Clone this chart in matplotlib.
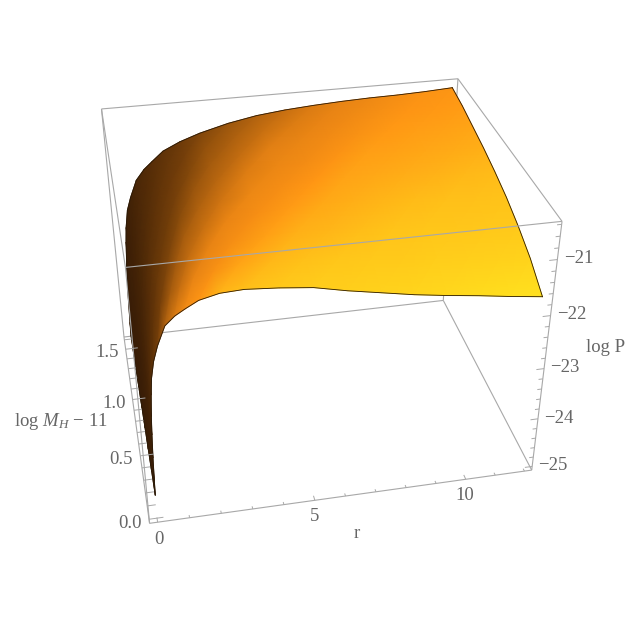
#!/usr/bin/env python3
"""3D surface of log P over r and log M_H, values read off the reference picture."""

import matplotlib
matplotlib.use("Agg")
import matplotlib.pyplot as plt
from matplotlib.collections import TriMesh
from matplotlib.colors import LinearSegmentedColormap
from matplotlib.tri import Triangulation
from mpl_toolkits.mplot3d import proj3d
import numpy as np

plt.rcParams['font.family'] = ['Liberation Serif', 'DejaVu Serif']
plt.rcParams['mathtext.fontset'] = 'custom'
plt.rcParams['mathtext.rm'] = 'Liberation Serif'
plt.rcParams['mathtext.it'] = 'Liberation Serif:italic'

# Surface samples, one list of log P per log M row
r_vals = [0.01, 0.02, 0.04, 0.07, 0.1, 0.15, 0.2, 0.3, 0.45, 0.7, 1.0, 1.3,
          1.7, 2.3, 3, 4, 5, 6, 7, 8, 9, 10, 11, 12]
m_vals = [0.0, 0.2, 0.4, 0.6, 0.8, 1.0, 1.2, 1.4, 1.6]
z_m00 = [-24.60, -24.30, -23.85, -23.40, -23.05, -22.65, -22.35, -22.05, -21.78, -21.45, -21.30, -21.20,
         -21.08, -21.00, -20.98, -21.02, -21.08, -21.20, -21.30, -21.40, -21.48, -21.55, -21.63, -21.70]
z_m02 = [-24.65, -24.35, -23.89, -23.44, -23.09, -22.69, -22.39, -22.08, -21.81, -21.48, -21.33, -21.22,
         -21.10, -21.01, -20.96, -20.95, -20.96, -21.03, -21.09, -21.15, -21.20, -21.29, -21.36, -21.40]
z_m04 = [-24.70, -24.40, -23.94, -23.49, -23.14, -22.73, -22.43, -22.11, -21.85, -21.52, -21.36, -21.25,
         -21.11, -21.01, -20.95, -20.90, -20.87, -20.90, -20.93, -20.96, -20.99, -21.09, -21.15, -21.18]
z_m06 = [-24.75, -24.45, -23.98, -23.53, -23.18, -22.76, -22.46, -22.14, -21.88, -21.55, -21.38, -21.27,
         -21.13, -21.02, -20.94, -20.85, -20.80, -20.80, -20.80, -20.81, -20.85, -20.94, -20.98, -21.00]
z_m08 = [-24.80, -24.50, -24.03, -23.58, -23.23, -22.80, -22.50, -22.18, -21.92, -21.59, -21.41, -21.29,
         -21.14, -21.03, -20.93, -20.82, -20.75, -20.72, -20.71, -20.70, -20.74, -20.80, -20.84, -20.86]
z_m10 = [-24.85, -24.55, -24.07, -23.62, -23.27, -22.84, -22.54, -22.21, -21.95, -21.62, -21.44, -21.31,
         -21.16, -21.03, -20.93, -20.80, -20.72, -20.68, -20.65, -20.64, -20.65, -20.70, -20.73, -20.74]
z_m12 = [-24.90, -24.60, -24.11, -23.66, -23.31, -22.88, -22.58, -22.24, -21.98, -21.65, -21.47, -21.34,
         -21.17, -21.04, -20.92, -20.79, -20.70, -20.65, -20.62, -20.59, -20.59, -20.62, -20.64, -20.64]
z_m14 = [-24.95, -24.65, -24.16, -23.71, -23.36, -22.91, -22.61, -22.27, -22.01, -21.69, -21.49, -21.36,
         -21.19, -21.04, -20.92, -20.78, -20.69, -20.63, -20.59, -20.57, -20.55, -20.56, -20.56, -20.54]
z_m16 = [-25.00, -24.70, -24.20, -23.75, -23.40, -22.95, -22.65, -22.30, -22.05, -21.72, -21.52, -21.38,
         -21.20, -21.05, -20.92, -20.78, -20.68, -20.62, -20.58, -20.55, -20.53, -20.52, -20.50, -20.47]

# Ticks
r_ticks = [0, 1, 2, 3, 4, 5, 6, 7, 8, 9, 10, 11, 12]
r_labels = {0: '0', 5: '5', 10: '10'}
m_ticks = [0.0, 0.1, 0.2, 0.3, 0.4, 0.5, 0.6, 0.7, 0.8, 0.9, 1.0, 1.1, 1.2, 1.3, 1.4, 1.5, 1.6]
m_labels = {0.0: '0.0', 0.5: '0.5', 1.0: '1.0', 1.5: '1.5'}
z_major = [-25, -24, -23, -22, -21]
z_minor = [-24.8, -24.6, -24.4, -24.2, -23.8, -23.6, -23.4, -23.2, -22.8, -22.6, -22.4, -22.2,
           -21.8, -21.6, -21.4, -21.2, -20.8, -20.6, -20.4]

x0, x1 = -0.25, 12.25
y0, y1 = -0.03, 1.63
z0, z1 = -25.08, -20.35
GRAY = '#a8a8a8'
TXT = '#666666'
FS = 13.5


class SmoothMesh(TriMesh):
    # gouraud triangles in the projected plane of the 3D axes, colours blend between samples
    def do_3d_projection(self):
        return 0


R, M = np.meshgrid(r_vals, m_vals)
Z = np.array([z_m00, z_m02, z_m04, z_m06, z_m08, z_m10, z_m12, z_m14, z_m16])

# Colour follows the look of the lit surface: dark at the wall, yellow towards large r
cmap = LinearSegmentedColormap.from_list('glow', [
    (0.00, '#321905'), (0.30, '#78410a'), (0.55, '#e68214'),
    (0.70, '#ff9614'), (0.85, '#ffc319'), (1.00, '#ffe11e')])
r_eq = R / (1 + 2.4 * M)
t = np.interp(r_eq, [0, 0.2, 0.7, 1.3, 2.3, 4, 12], [0.03, 0.15, 0.42, 0.62, 0.8, 0.88, 1])
t = t - 0.12 * (M / 1.6) * np.minimum(R / 6, 1)

S = 580
box = (1.11, 0.91, 0.835)
fig = plt.figure(figsize=(6.27, 6.28), dpi=100)
ax = fig.add_axes([15.7 / 627, 43.2 / 628, S / 627, S / 628], projection='3d', computed_zorder=False)
ax.set_proj_type('persp', focal_length=0.4086)
ax.view_init(elev=33, azim=-101.5, roll=0)
ax.set_box_aspect(box, zoom=1.081 * np.linalg.norm(box) / 1.9057)
ax.set_xlim(x0, x1, view_margin=0)
ax.set_ylim(y0, y1, view_margin=0)
ax.set_zlim(z0, z1, view_margin=0)
ax.set_xticks([])
ax.set_yticks([])
ax.set_zticks([])
ax.set_axis_off()
ax.patch.set_alpha(0)


def seg(xs, ys, zs, zorder=1, lw=0.8):
    ax.plot(xs, ys, zs, color=GRAY, lw=lw, zorder=zorder, solid_capstyle='butt')


# Box edges behind the surface
seg([x0, x1], [y1, y1], [z0, z0])
seg([x1, x1], [y1, y1], [z0, z1])
seg([x0, x0], [y1, y1], [z0, z1])
seg([x0, x1], [y1, y1], [z1, z1])
seg([x0, x0], [y0, y1], [z1, z1])
seg([x1, x1], [y0, y1], [z1, z1])
seg([x1, x1], [y0, y1], [z0, z0])

# Surface, triangles painted far to near
px, py, pz = proj3d.proj_transform(R.ravel(), M.ravel(), Z.ravel(), ax.get_proj())
nm, nr = R.shape
idx = np.arange(nm * nr).reshape(nm, nr)
a, b, c, d = idx[:-1, :-1].ravel(), idx[:-1, 1:].ravel(), idx[1:, 1:].ravel(), idx[1:, :-1].ravel()
tris = np.vstack([np.c_[a, b, c], np.c_[a, c, d]])
tris = tris[np.argsort(-np.asarray(pz)[tris].mean(axis=1))]
mesh = SmoothMesh(Triangulation(np.asarray(px), np.asarray(py), tris), cmap=cmap, zorder=2)
mesh.set_array(t.ravel())
mesh.set_clim(0, 1)
ax.add_collection(mesh, autolim=False)

for xs, ys, zs in [(R[0], M[0], Z[0]), (R[-1], M[-1], Z[-1]),
                   (R[:, -1], M[:, -1], Z[:, -1]), (R[:, 0], M[:, 0], Z[:, 0])]:
    ax.plot(xs, ys, zs, color='#2a1a08', lw=0.6, zorder=3)

# Box edges in front of it
seg([x0, x1], [y0, y0], [z1, z1], zorder=4)
seg([x0, x1], [y0, y0], [z0, z0], zorder=4)
seg([x0, x0], [y0, y1], [z0, z0], zorder=4)
seg([x0, x0], [y0, y0], [z0, z1], zorder=4)
seg([x1, x1], [y0, y0], [z0, z1], zorder=4)

# r axis
for v in r_ticks:
    dy = 0.035 if v in r_labels else 0.02
    seg([v, v], [y0, y0 + dy], [z0, z0], zorder=4, lw=0.7)
    if v in r_labels:
        ax.text(v, y0, z0 - 0.36, r_labels[v], color=TXT, fontsize=FS, ha='center', va='center')

# log M axis
for v in m_ticks:
    dx = 0.45 if v in m_labels else 0.27
    seg([x0, x0 + dx], [v, v], [z0, z0], zorder=4, lw=0.7)
    if v in m_labels:
        ax.text(x0 - 0.25, v, z0 - 0.06, m_labels[v], color=TXT, fontsize=FS, ha='right', va='center')

# log P axis
for v in z_major:
    seg([x1 - 0.25, x1], [y0, y0], [v, v], zorder=4, lw=0.7)
    ax.text(x1 + 0.2, y0, v, '\u2212%d' % abs(v), color=TXT, fontsize=FS, ha='left', va='center')
for v in z_minor:
    seg([x1 - 0.14, x1], [y0, y0], [v, v], zorder=4, lw=0.7)

fig.text(357 / 627, 1 - 534 / 628, 'r', color=TXT, fontsize=FS, ha='center', va='center')
fig.text(606 / 627, 1 - 348 / 628, 'log P', color=TXT, fontsize=FS, ha='center', va='center')
fig.text(61 / 627, 1 - 421 / 628, 'log $M_{H}$ \u2212 11', color=TXT, fontsize=FS, ha='center', va='center')

fig.savefig('out.png', dpi=100)
